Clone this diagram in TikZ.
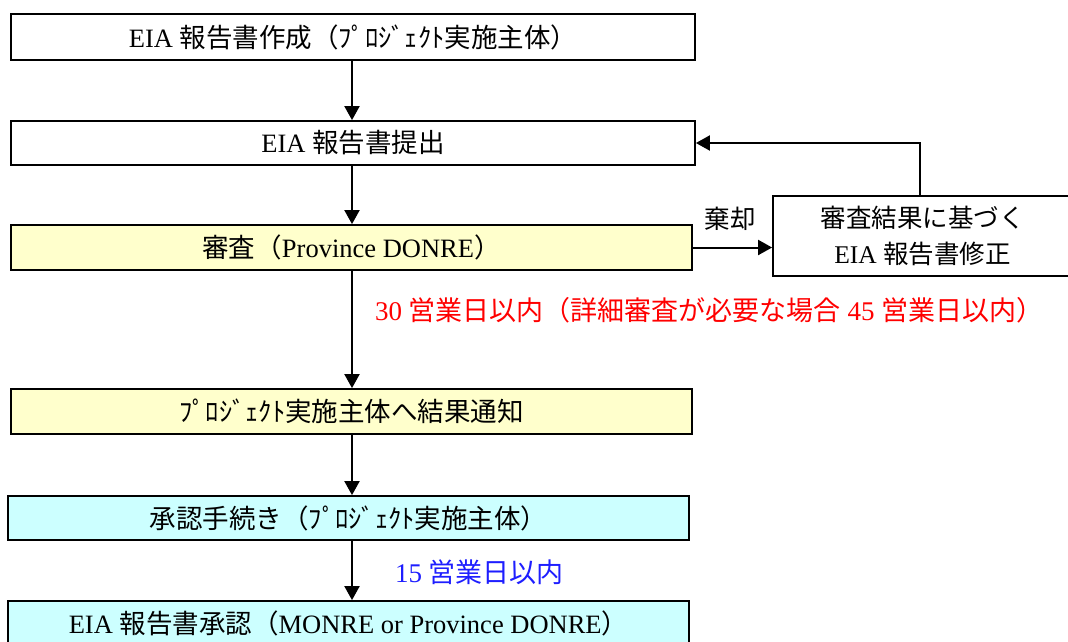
\documentclass[tikz,border=0pt]{standalone}
\usepackage{fontspec}
\setmainfont{Liberation Serif}
\newfontfamily\cjk{Noto Sans CJK JP}
\newcommand\jp[1]{{\cjk #1}}
\usetikzlibrary{arrows.meta}
\definecolor{boxyellow}{RGB}{255,255,204}
\definecolor{boxcyan}{RGB}{204,255,255}
\definecolor{txtblue}{RGB}{30,30,255}
\begin{document}
\begin{tikzpicture}[x=1pt,y=-1pt,
  box/.style={draw=black, line width=1.8pt, inner sep=0pt, align=center,
    font=\fontsize{26.5}{36}\selectfont},
  arr/.style={line width=2pt, -{Triangle[length=14pt,width=15pt]}},
  lbl/.style={inner sep=0pt, font=\fontsize{27}{30}\selectfont}]
\useasboundingbox (0,0) rectangle (1068,641);
\node[box, minimum width=684pt, minimum height=46pt] (b1) at (353,37) {EIA \jp{報告書作成（ﾌﾟﾛｼﾞｪｸﾄ実施主体）}};
\node[box, minimum width=684pt, minimum height=44pt] (b2) at (353,143) {EIA \jp{報告書提出}};
\node[box, fill=boxyellow, minimum width=681pt, minimum height=45pt] (b3) at (351.5,247.5) {\jp{審査（}Province DONRE\jp{）}};
\node[box, fill=boxyellow, minimum width=681pt, minimum height=45pt] (b4) at (351.5,411.5) {\jp{ﾌﾟﾛｼﾞｪｸﾄ実施主体へ結果通知}};
\node[box, fill=boxcyan, minimum width=681pt, minimum height=44pt] (b5) at (348.5,518) {\jp{承認手続き（ﾌﾟﾛｼﾞｪｸﾄ実施主体）}};
\node[box, fill=boxcyan, minimum width=681pt, minimum height=44pt] (b6) at (348.5,623) {EIA \jp{報告書承認（}MONRE or Province DONRE\jp{）}};
\node[box, minimum width=299pt, minimum height=80pt, font=\fontsize{25.5}{36}\selectfont] (rb) at (922.5,236) {\jp{審査結果に基づく}\\EIA \jp{報告書修正}};
\coordinate (xl) at (352,0);
\coordinate (fx) at (920,0);
\draw[arr] (b1.south -| xl) -- (b2.north -| xl);
\draw[arr] (b2.south -| xl) -- (b3.north -| xl);
\draw[arr] (b3.south -| xl) -- (b4.north -| xl);
\draw[arr] (b4.south -| xl) -- (b5.north -| xl);
\draw[arr] (b5.south -| xl) -- (b6.north -| xl);
\draw[arr] (b3.east) -- (rb.west |- b3.east);
\draw[arr] (rb.north -| fx) |- (b2.east);
\node[lbl, anchor=west, text=red] (t30) at (375,310) {30 \jp{営業日以内（詳細審査が必要な場合} 45 \jp{営業日以内）}};
\node[lbl, anchor=west, text=txtblue] (t15) at (395,572) {15 \jp{営業日以内}};
\node[lbl, font=\fontsize{25.5}{30}\selectfont] (kk) at (730,219) {\jp{棄却}};
\end{tikzpicture}
\end{document}
